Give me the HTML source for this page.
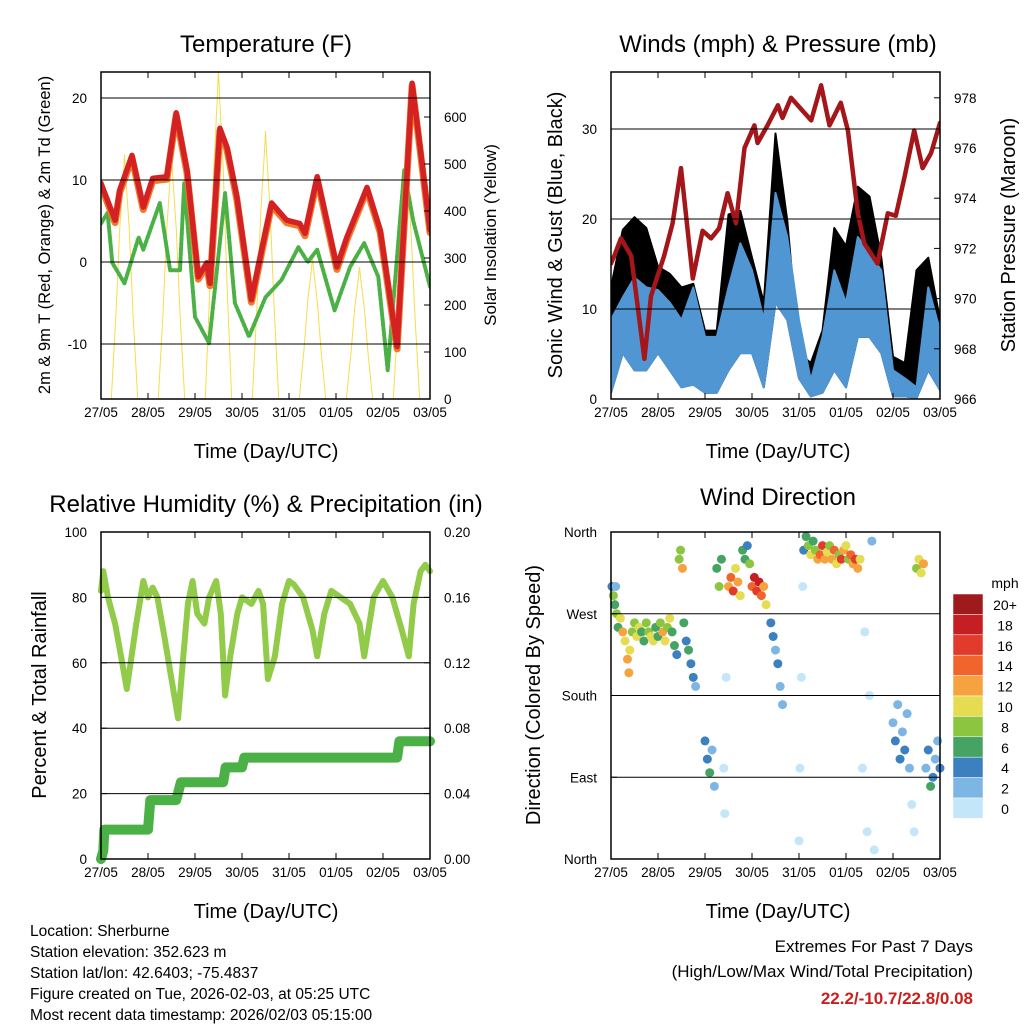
<!DOCTYPE html>
<html><head><meta charset="utf-8"><style>
html,body{margin:0;padding:0;background:#fff;}
svg{display:block;font-family:"Liberation Sans",Arial,sans-serif;}
</style></head><body>
<svg id="chart" width="1024" height="1024" viewBox="0 0 1024 1024" xmlns="http://www.w3.org/2000/svg">
<rect width="1024" height="1024" fill="#fff"/>
<text x="266" y="52" font-size="24" text-anchor="middle">Temperature (F)</text>
<text x="778" y="52" font-size="24" text-anchor="middle">Winds (mph) &amp; Pressure (mb)</text>
<text x="266" y="512" font-size="24" text-anchor="middle">Relative Humidity (%) &amp; Precipitation (in)</text>
<text x="778" y="505" font-size="24" text-anchor="middle">Wind Direction</text>
<text transform="translate(50,235) rotate(-90)" font-size="16.5" text-anchor="middle">2m &amp; 9m T (Red, Orange) &amp; 2m Td (Green)</text>
<text transform="translate(496,235) rotate(-90)" font-size="17" text-anchor="middle">Solar Insolation (Yellow)</text>
<text transform="translate(562,235) rotate(-90)" font-size="20" text-anchor="middle">Sonic Wind &amp; Gust (Blue, Black)</text>
<text transform="translate(1015,235) rotate(-90)" font-size="20" text-anchor="middle">Station Pressure (Maroon)</text>
<text transform="translate(46,695) rotate(-90)" font-size="20" text-anchor="middle">Percent &amp; Total Rainfall</text>
<text transform="translate(540,695) rotate(-90)" font-size="20" text-anchor="middle">Direction (Colored By Speed)</text>
<text x="266" y="458" font-size="20" text-anchor="middle">Time (Day/UTC)</text>
<text x="778" y="458" font-size="20" text-anchor="middle">Time (Day/UTC)</text>
<text x="266" y="918" font-size="20" text-anchor="middle">Time (Day/UTC)</text>
<text x="778" y="918" font-size="20" text-anchor="middle">Time (Day/UTC)</text>
<g font-size="15.5">
<text x="30" y="936">Location: Sherburne</text>
<text x="30" y="957">Station elevation: 352.623 m</text>
<text x="30" y="978">Station lat/lon: 42.6403; -75.4837</text>
<text x="30" y="999">Figure created on Tue, 2026-02-03, at 05:25 UTC</text>
<text x="30" y="1020">Most recent data timestamp: 2026/02/03 05:15:00</text>
</g>
<text x="973" y="952" font-size="17" text-anchor="end">Extremes For Past 7 Days</text>
<text x="973" y="977" font-size="17" text-anchor="end">(High/Low/Max Wind/Total Precipitation)</text>
<text x="973" y="1004" font-size="17" font-weight="bold" fill="#c8201f" text-anchor="end">22.2/-10.7/22.8/0.08</text>
<text x="1005" y="588" font-size="14" text-anchor="middle">mph</text>
</svg>
<script>
const dayLabels = ["27/05","28/05","29/05","30/05","31/05","01/05","02/05","03/05"];
const tempT = [0,0.3,0.4,0.66,0.9,1.1,1.4,1.6,1.83,2.07,2.25,2.32,2.53,2.68,2.89,3.2,3.45,3.63,3.95,4.23,4.34,4.6,5.02,5.23,5.66,5.94,6.3,6.62,6.79,7];
const tempV = [9.6,5.1,8.8,13,6.7,10.2,10.4,18.2,11.2,-1.8,-0.1,-2.6,16.3,14,8,-4.6,2.3,7.2,5.1,4.7,3.5,10.4,-0.6,3,9.1,3.9,-10.3,21.8,14,3.9];
const dewT = [0,0.14,0.24,0.5,0.8,0.9,1.25,1.47,1.68,1.77,2.0,2.3,2.64,2.85,3.15,3.5,3.84,4.2,4.4,4.6,4.97,5.3,5.6,5.9,6.1,6.45,6.64,7];
const dewV = [4.7,6,-0.1,-2.6,3,1.5,7.2,-1,-1,9.6,-6.7,-9.9,8.4,-5,-9.1,-4.3,-2.2,1.8,0,1.5,-5.9,-0.6,2.3,-1.8,-13.2,11.2,5.1,-3];
const solarDay = [0,1,2,3,4,5,6];
const solarPeak = [520,520,700,570,300,280,500];
const presT = [0,0.07,0.21,0.43,0.71,0.85,1.13,1.31,1.49,1.74,1.95,2.13,2.3,2.48,2.66,2.84,3.05,3.12,3.33,3.55,3.65,3.83,4.26,4.47,4.65,4.89,5.04,5.25,5.39,5.67,5.89,6.06,6.24,6.45,6.63,6.81,7.0];
const presV = [971.4,971.7,972.4,971.7,967.6,970.1,971.7,973.0,975.2,970.8,972.7,972.4,972.8,974.2,973.0,976.0,976.9,976.2,976.9,977.7,977.2,978.0,977.1,978.5,976.9,977.8,976.7,973.4,972.2,971.4,973.4,973.3,974.8,976.7,975.2,975.8,977.0];
const windT = [0,0.25,0.5,0.75,1.0,1.25,1.5,1.75,2.0,2.25,2.5,2.75,3.0,3.25,3.5,3.75,4.0,4.25,4.5,4.75,5.0,5.25,5.5,5.75,6.0,6.25,6.5,6.75,7.0];
const windHi = [8.8,11.3,13.5,12.4,12.1,10.7,8.8,12.4,6.9,6.9,12.4,17.3,14.3,8.8,22.9,18,8.8,2.1,6.9,14.3,10.7,18,16.2,14.3,3.2,2.3,1.3,12.4,7.6];
const windLo = [0.7,5.1,3.2,3.2,5.1,3.2,1.3,1.6,0.7,0.7,3.2,5.1,5.1,1.3,10.7,8.8,2.3,0.3,0.7,3.2,1.3,6.9,6.9,5.1,0.3,0.3,0.1,3.2,1.0];
const gustHi = [12.4,18.8,20.2,19,14.7,13.9,12.4,12.8,7.6,7.6,20.5,20.9,15.7,10.7,29.5,19.8,5.1,4.0,7.6,19,17,23.6,22.5,15.7,4.7,4.0,14.3,15.7,8.8];
const rhT = [0,0.05,0.15,0.3,0.45,0.55,0.75,0.9,1.0,1.1,1.2,1.35,1.5,1.64,1.75,1.85,1.95,2.05,2.2,2.3,2.45,2.55,2.64,2.75,2.9,3.0,3.2,3.35,3.45,3.55,3.7,3.85,4.0,4.1,4.3,4.5,4.6,4.75,4.9,5.1,5.3,5.5,5.6,5.8,6.0,6.2,6.4,6.55,6.65,6.8,6.9,7.0];
const rhV = [82,88,80,72,60,52,72,85,80,83,80,68,55,43,62,78,85,75,72,80,85,75,50,62,75,80,78,82,78,55,62,78,85,84,80,70,62,75,82,80,78,72,62,80,85,80,70,62,78,88,90,88];
const prT = [0,0.05,0.07,1.0,1.05,1.6,1.7,2.6,2.65,3.0,3.05,6.3,6.35,7.0];
const prV = [0,0.005,0.018,0.018,0.036,0.036,0.047,0.047,0.056,0.056,0.062,0.062,0.072,0.072];
const dirT = [0.02,0.05,0.08,0.1,0.12,0.15,0.2,0.25,0.3,0.35,0.38,0.4,0.45,0.5,0.55,0.6,0.65,0.7,0.75,0.8,0.85,0.9,0.95,1.0,1.05,1.1,1.15,1.2,1.25,1.3,1.35,1.4,1.45,1.48,1.52,1.55,1.6,1.65,1.7,1.75,1.8,2.0,2.05,2.1,2.15,2.2,2.25,2.3,2.35,2.4,2.42,2.45,2.5,2.55,2.6,2.65,2.7,2.75,2.8,2.85,2.9,2.95,3.0,3.05,3.1,3.15,3.2,3.25,3.3,3.4,3.45,3.5,3.55,3.6,3.65,4.0,4.02,4.05,4.08,4.1,4.15,4.2,4.25,4.3,4.35,4.4,4.45,4.5,4.55,4.6,4.65,4.7,4.75,4.8,4.85,4.9,4.95,5.0,5.05,5.1,5.15,5.2,5.25,5.3,5.35,5.4,5.45,5.5,5.55,5.6,6.0,6.05,6.1,6.15,6.2,6.25,6.3,6.35,6.4,6.45,6.5,6.55,6.6,6.65,6.7,6.75,6.8,6.85,6.9,6.95,7.0];
const dirD = [300,290,280,300,270,255,265,250,240,220,205,230,250,260,245,255,250,240,260,250,245,240,255,245,260,250,240,255,265,250,235,225,330,340,320,260,240,230,215,200,190,130,110,95,120,80,320,300,330,100,50,200,300,310,295,320,305,290,340,330,345,325,300,310,295,305,290,300,280,260,245,230,215,190,170,20,100,200,300,340,355,345,335,350,340,330,335,345,330,338,345,330,340,325,335,330,340,345,330,335,325,330,320,330,100,250,30,180,350,10,150,130,170,110,140,120,160,100,60,30,320,330,315,325,100,120,80,90,110,130,100];
const dirS = [5,8,6,2,9,7,10,12,11,13,12,10,9,8,11,10,7,6,8,9,10,11,7,6,8,12,10,9,11,7,6,5,8,9,12,6,5,6,4,5,3,4,5,6,3,2,7,8,6,1,0,1,12,14,16,10,13,11,6,7,5,8,15,18,16,19,14,12,10,5,4,3,4,3,2,0,1,0,1,4,6,8,10,7,9,12,14,16,12,10,8,13,15,11,9,16,12,10,8,14,13,17,12,10,0,1,0,1,2,0,3,4,2,5,3,4,2,3,1,0,9,11,10,12,3,5,6,4,3,2,5];
const cbLabels = ["20+","18","16","14","12","10","8","6","4","2","0"];
const cbColors = ["#9f1a1c","#c51f24","#e33b2b","#f1652c","#f6a33f","#e5dc52","#8cc641","#45a463","#3c80c0","#7db6e4","#c3e6f9"];

const svg = document.getElementById('chart');
const NS = "http://www.w3.org/2000/svg";
function mk(tag, attrs, parent){ const e=document.createElementNS(NS,tag); for(const k in attrs) e.setAttribute(k,attrs[k]); (parent||svg).appendChild(e); return e; }

function panel(x0,y0,w,h,name){
  const xs = d => x0 + d*w/7;
  const g = mk('g',{});
  
  
  return {xs,g,x0,y0,w,h};
}
function frame(p,name,leftTicks,leftFn,leftLabels,rightTicks,rightFn,rightLabels,grid){
  const g=p.g;
  if(grid){ leftTicks.forEach(v=>{ const y=leftFn(v); if(y>p.y0+1&&y<p.y0+p.h-1){ const l=mk('line',{x1:p.x0,x2:p.x0+p.w,y1:y,y2:y,stroke:'#000','stroke-width':1},g);
    
     } }); }
  const r=mk('rect',{x:p.x0,y:p.y0,width:p.w,height:p.h,fill:'none',stroke:'#000','stroke-width':1.5},g);
  
  
  for(let i=0;i<=7;i++){ const x=p.xs(i);
    mk('line',{x1:x,x2:x,y1:p.y0+p.h,y2:p.y0+p.h-6,stroke:'#000'},g);
    mk('line',{x1:x,x2:x,y1:p.y0,y2:p.y0+6,stroke:'#000'},g);
    const t=mk('text',{x:x,y:p.y0+p.h+18,'font-size':13.5,'text-anchor':'middle'},g); t.textContent=dayLabels[i];
    
    
  }
  leftTicks.forEach((v,i)=>{ const y=leftFn(v);
    mk('line',{x1:p.x0,x2:p.x0+6,y1:y,y2:y,stroke:'#000'},g);
    const t=mk('text',{x:p.x0-14,y:y+5,'font-size':13.5,'text-anchor':'end'},g); t.textContent=leftLabels[i];
    
    
  });
  if(rightTicks) rightTicks.forEach((v,i)=>{ const y=rightFn(v);
    mk('line',{x1:p.x0+p.w,x2:p.x0+p.w-6,y1:y,y2:y,stroke:'#000'},g);
    const t=mk('text',{x:p.x0+p.w+14,y:y+5,'font-size':13.5,'text-anchor':'start'},g); t.textContent=rightLabels[i];
    
    
  });
}
function poly(p,T,V,fy,stroke,width,name,extra){
  const pts=T.map((t,i)=>p.xs(t).toFixed(1)+','+fy(V[i]).toFixed(1)).join(' ');
  const e=mk('polyline',Object.assign({points:pts,fill:'none',stroke:stroke,'stroke-width':width,'stroke-linejoin':'round','stroke-linecap':'round'},extra||{}),p.g);
  
  
  return e;
}
function band(p,T,hi,lo,fy,fill,name,clip){
  const top=T.map((t,i)=>p.xs(t).toFixed(1)+','+fy(hi[i]).toFixed(1));
  const bot=T.map((t,i)=>p.xs(t).toFixed(1)+','+fy(lo[i]).toFixed(1)).reverse();
  const e=mk('polygon',{points:top.concat(bot).join(' '),fill:fill,stroke:fill,'stroke-width':2,'stroke-linejoin':'round','clip-path':clip},p.g);
  
  
}

// Panel 1 Temperature
const p1 = panel(101,72,329,327,'temperature');
const ty = v => 262 - v*8.2;
const sy = v => 399 - v*0.47;
const clip1 = mk('clipPath',{id:'c1'}); mk('rect',{x:101,y:72,width:329,height:327},clip1);
solarDay.forEach((d,i)=>{
  const T=[d+0.22,d+0.32,d+0.4,d+0.47,d+0.5,d+0.53,d+0.6,d+0.68,d+0.78];
  const F=[0,0.35,0.7,0.9,1,0.9,0.7,0.35,0];
  const V=F.map(f=>f*solarPeak[i]);
  poly(p1,T,V,sy,'#f7dc4a',1,'solar-insolation-day-'+i,{'clip-path':'url(#c1)'});
});
poly(p1,dewT,dewV,ty,'#4bb146',4,'dewpoint-line',{'stroke-dasharray':'3,2','clip-path':'url(#c1)'});
poly(p1,tempT,tempV.map(v=>v-0.3),ty,'#f07a2a',7,'temperature-9m-line',{'clip-path':'url(#c1)'});
poly(p1,tempT,tempV,ty,'#d42224',5.5,'temperature-2m-line',{'clip-path':'url(#c1)'});
frame(p1,'temperature',[-10,0,10,20],ty,['-10','0','10','20'],[0,100,200,300,400,500,600],sy,['0','100','200','300','400','500','600'],true);

// Panel 2 Winds
const p2 = panel(611,72,329,327,'winds');
const wy = v => 399 - v*9;
const py = v => 399 - (v-966)*25.1;
const clip2 = mk('clipPath',{id:'c2'}); mk('rect',{x:611,y:72,width:329,height:327},clip2);
band(p2,windT,gustHi,windLo,wy,'#000','gust-band','url(#c2)');
band(p2,windT,windHi,windLo,wy,'#4f96d2','wind-speed-band','url(#c2)');
poly(p2,presT,presV,py,'#a4161a',4.5,'pressure-line',{'clip-path':'url(#c2)'});
frame(p2,'winds',[0,10,20,30],wy,['0','10','20','30'],[966,968,970,972,974,976,978],py,['966','968','970','972','974','976','978'],true);

// Panel 3 Humidity
const p3 = panel(101,532,329,327,'humidity');
const hy = v => 859 - v*3.27;
const ry = v => 859 - v*1635;
poly(p3,rhT,rhV,hy,'#92cb4a',6,'relative-humidity-line');
poly(p3,prT,prV,ry,'#4bb146',10,'precipitation-line');
frame(p3,'humidity',[0,20,40,60,80,100],hy,['0','20','40','60','80','100'],[0,0.04,0.08,0.12,0.16,0.2],ry,['0.00','0.04','0.08','0.12','0.16','0.20'],true);

// Panel 4 Wind direction
const p4 = panel(611,532,329,327,'wind-direction');
const dy = v => 859 - v*327/360;
function spColor(s){ const idx = Math.min(10, Math.floor(s/2)); return cbColors[10-idx]; }
dirT.forEach((t,i)=>{
  const c=mk('circle',{cx:p4.xs(t),cy:dy(dirD[i]),r:4.5,fill:spColor(dirS[i])},p4.g);
  
  
});
frame(p4,'wind-direction',[0,90,180,270,360],dy,['North','East','South','West','North'],null,null,null,true);

// Colorbar
cbColors.forEach((col,i)=>{
  const y=594+i*20.4;
  const r=mk('rect',{x:953,y:y,width:30,height:20.4,fill:col,stroke:'#fff','stroke-width':0.5});
  
  
  const t=mk('text',{x:1005,y:y+16,'font-size':14,'text-anchor':'middle'}); t.textContent=cbLabels[i];
  
  
});
</script>
</body></html>
